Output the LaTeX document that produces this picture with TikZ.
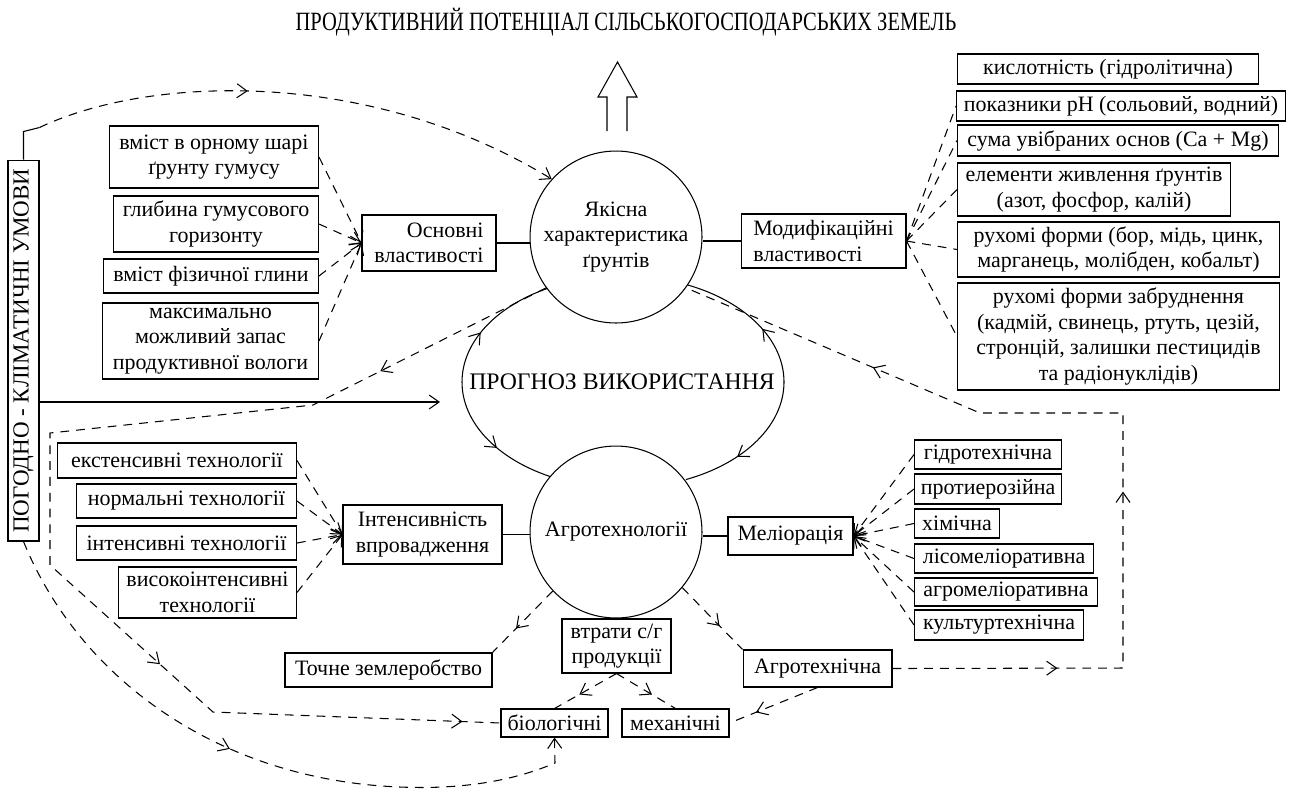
\documentclass[tikz,border=0pt]{standalone}
\usepackage{fontspec}
\setmainfont{Liberation Serif}
\usetikzlibrary{arrows.meta, positioning, calc, decorations.markings}
\newcommand{\boxfont}{\fontsize{12.5}{14.5}\selectfont}

\begin{document}
\begin{tikzpicture}[
    x=0.02cm, y=-0.02cm,
    >={Straight Barb[length=2mm, width=2.8mm]},
    box/.style={rectangle, draw=black, line width=0.6pt, inner sep=1pt,
                align=center, font=\boxfont},
    circ/.style={circle, draw=black, line width=0.6pt, minimum size=3.44cm,
                 inner sep=0pt, align=center, font=\boxfont},
    link/.style={line width=0.6pt},
    dlink/.style={line width=0.6pt, dash pattern=on 5pt off 4pt},
    marr/.style={postaction={decorate, decoration={markings,
                 mark=at position #1 with {\arrow{>}}}}},
]
\useasboundingbox (0,0) rectangle (1293,789);

% заголовок і порожниста стрілка
\node[font=\fontsize{15}{17}\selectfont] (title) at (626,22)
    {\scalebox{0.78}[1]{ПРОДУКТИВНИЙ ПОТЕНЦІАЛ СІЛЬСЬКОГОСПОДАРСЬКИХ ЗЕМЕЛЬ}};
\draw[link] (607,131) -- (607,97) -- (598,97) -- (617.5,62)
    -- (637,97) -- (627,97) -- (627,131);

% центральні кола
\node[circ] (quality) at (616,237) {Якісна\\характеристика\\ґрунтів};
\node[circ] (agro) at (616,532) {Агротехнології};
\node[font=\fontsize{13.5}{16}\selectfont] (forecast) at (622,382) {ПРОГНОЗ ВИКОРИСТАННЯ};

% дуги прогнозу
\draw[link, marr=0.4] ($(forecast)+(-160,0)$) arc[start angle=180, end angle=118, x radius=3.22cm, y radius=2.12cm];
\draw[link, marr=0.56] ($(forecast)+(-160,0)$) arc[start angle=180, end angle=243, x radius=3.22cm, y radius=2.12cm];
\draw[link, marr=0.4] ($(forecast)+(162,0)$) arc[start angle=0, end angle=66.5, x radius=3.22cm, y radius=2.12cm];
\draw[link, marr=0.62] ($(forecast)+(162,0)$) arc[start angle=0, end angle=-67, x radius=3.22cm, y radius=2.12cm];

% основні властивості
\node[box, minimum width=2.68cm, minimum height=1.12cm, align=right] (osn) at (429,243) {Основні\\властивості};
\node[box, anchor=east, minimum width=4.18cm, minimum height=1.24cm] (prop1) at (319,157) {вміст в орному шарі\\ґрунту гумусу};
\node[box, anchor=east, minimum width=4.10cm, minimum height=1.12cm] (prop2) at (319,224) {глибина гумусового\\горизонту};
\node[box, anchor=east, minimum width=4.30cm, minimum height=0.68cm] (prop3) at (319,276) {вміст фізичної глини};
\node[box, anchor=east, minimum width=4.32cm, minimum height=1.52cm] (prop4) at (319,341) {максимально\\можливий запас\\продуктивної вологи};

% модифікаційні властивості
\node[box, minimum width=3.30cm, minimum height=1.08cm, align=left] (mod) at (823.5,241) {Модифікаційні\\властивості};
\node[box, anchor=west, minimum width=6.02cm, minimum height=0.60cm] (mod1) at (957,69) {кислотність (гідролітична)};
\node[box, anchor=west, minimum width=6.58cm, minimum height=0.60cm] (mod2) at (956,106) {показники рН (сольовий, водний)};
\node[box, anchor=west, minimum width=6.42cm, minimum height=0.62cm] (mod3) at (957,140.5) {сума увібраних основ (Ca + Mg)};
\node[box, anchor=west, minimum width=5.46cm, minimum height=1.06cm] (mod4) at (957,189.5) {елементи живлення ґрунтів\\(азот, фосфор, калій)};
\node[box, anchor=west, minimum width=6.44cm, minimum height=1.10cm] (mod5) at (957,249.5) {рухомі форми (бор, мідь, цинк,\\марганець, молібден, кобальт)};
\node[box, anchor=west, minimum width=6.44cm, minimum height=2.14cm] (mod6) at (957,336.5) {рухомі форми забруднення\\(кадмій, свинець, ртуть, цезій,\\стронцій, залишки пестицидів\\та радіонуклідів)};

% погодно-кліматичні умови
\node[box, minimum width=0.62cm, minimum height=7.62cm, font=\fontsize{13.1}{15}\selectfont] (climate) at (23.5,350.5)
    {\rotatebox{90}{ПОГОДНО - КЛІМАТИЧНІ УМОВИ}};

% інтенсивність впровадження
\node[box, minimum width=3.18cm, minimum height=1.18cm] (intens) at (422.5,534.5) {Інтенсивність\\впровадження};
\node[box, anchor=east, minimum width=4.78cm, minimum height=0.70cm] (tech1) at (297,460.5) {екстенсивні технології};
\node[box, anchor=east, minimum width=4.40cm, minimum height=0.68cm] (tech2) at (297,501) {нормальні технології};
\node[box, anchor=east, minimum width=4.40cm, minimum height=0.68cm] (tech3) at (297,543) {інтенсивні технології};
\node[box, anchor=east, minimum width=3.56cm, minimum height=1.02cm] (tech4) at (297,592.5) {високоінтенсивні\\технології};

% меліорація
\node[box, minimum width=2.50cm, minimum height=0.76cm] (melio) at (790.5,536) {Меліорація};
\node[box, anchor=west, minimum width=2.94cm, minimum height=0.58cm] (mel1) at (914,454.5) {гідротехнічна};
\node[box, anchor=west, minimum width=2.94cm, minimum height=0.60cm] (mel2) at (914,489) {протиерозійна};
\node[box, anchor=west, minimum width=1.70cm, minimum height=0.58cm] (mel3) at (914,523.5) {хімічна};
\node[box, anchor=west, minimum width=3.58cm, minimum height=0.58cm] (mel4) at (914,558.5) {лісомеліоративна};
\node[box, anchor=west, minimum width=3.66cm, minimum height=0.56cm] (mel5) at (914,592) {агромеліоративна};
\node[box, anchor=west, minimum width=3.38cm, minimum height=0.60cm] (mel6) at (914,625) {культуртехнічна};

% нижня частина
\node[box, minimum width=4.14cm, minimum height=0.68cm] (tochne) at (388.5,670) {Точне землеробство};
\node[box, minimum width=2.18cm, minimum height=1.08cm] (vtraty) at (616.5,646) {втрати с/г\\продукції};
\node[box, minimum width=2.98cm, minimum height=0.74cm] (agrotech) at (817.5,668.5) {Агротехнічна};
\node[box, minimum width=2.14cm, minimum height=0.56cm] (bio) at (554.5,723) {біологічні};
\node[box, minimum width=2.14cm, minimum height=0.56cm] (mech) at (675.5,723) {механічні};

% суцільні зв'язки
\draw[link] (osn.east) -- (osn.east -| quality.west);
\draw[link] (mod.west) -- (mod.west -| quality.east);
\draw[link] (intens.east) -- (intens.east -| agro.west);
\draw[link] (melio.west) -- (melio.west -| agro.east);
\coordinate (fin) at (440,402);
\draw[link, ->] (climate.east |- fin) -- (fin);

% пунктирні віяла
\foreach \n in {prop1,prop2,prop3,prop4}
    \draw[dlink, ->] (\n.east) -- (osn.west);
\foreach \n in {mod2,mod3,mod4,mod5,mod6}
    \draw[dlink] (mod.east) -- (\n.west);
\foreach \n in {tech1,tech2,tech3,tech4}
    \draw[dlink, ->] (\n.east) -- (intens.west);
\foreach \n in {mel1,mel2,mel3,mel4,mel5,mel6}
    \draw[dlink, ->] (\n.west) -- (melio.east);

% пунктирні стрілки навколо агротехнологій
\draw[dlink, marr=0.61] (agro.223) -- (tochne.north east);
\draw[dlink, marr=0.62] (agro.320) -- (agrotech.north west);
\draw[dlink, marr=0.6] (vtraty.south) -- (bio.north);
\draw[dlink, marr=0.6] (vtraty.south) -- (mech.north);
\draw[dlink, marr=0.7] (agrotech.south) -- (mech.east);

% довгі пунктирні шляхи
\draw[link] (climate.north) -- ++(0,-28) -- ++(16,-4) coordinate (cstart);
\draw[dlink, ->, marr=0.4] (cstart) .. controls (150,75) and (370,68) .. (quality.138);
\draw[dlink, marr=3.71cm, marr=16.11cm, marr=22.52cm] (quality.216) -- (313,405) -- (50,433)
    -- (50,565) -- (213,712) -- (bio.west);
\coordinate (cb) at (555,763);
\draw[dlink, ->, marr=6cm] (climate.south) .. controls (80,680) and (220,780) .. (400,787)
    .. controls (470,790) and (520,778) .. (cb) -- (bio.south);
\draw[dlink, marr=3.3cm, marr=8.14cm, marr=14.9cm] (agrotech.east) -- (1123,668) -- (1123,413)
    -- (980,413) -- (quality.324);
\end{tikzpicture}
\end{document}
